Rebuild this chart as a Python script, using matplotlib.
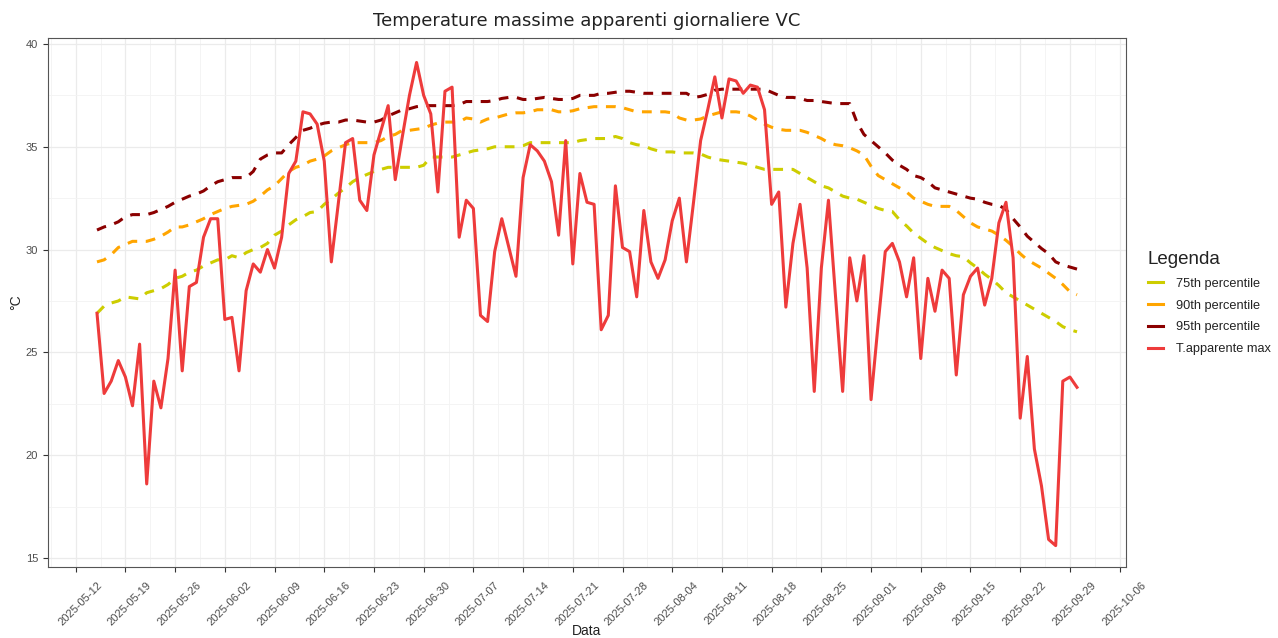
import matplotlib
matplotlib.use("Agg")
import matplotlib.pyplot as plt
import matplotlib.dates as mdates
import matplotlib.transforms as mtransforms
from matplotlib.lines import Line2D
import pandas as pd

# daily values, 2025-05-15 .. 2025-09-30 (one row = one week)
t_app_max = [
    26.9, 23.0, 23.6, 24.6, 23.8, 22.4, 25.4,
    18.6, 23.6, 22.3, 24.7, 29.0, 24.1, 28.2,
    28.4, 30.6, 31.5, 31.5, 26.6, 26.7, 24.1,
    28.0, 29.3, 28.9, 30.0, 29.1, 30.6, 33.7,
    34.3, 36.7, 36.6, 36.1, 34.3, 29.4, 32.3,
    35.2, 35.4, 32.4, 31.9, 34.6, 35.8, 37.0,
    33.4, 35.5, 37.5, 39.1, 37.5, 36.6, 32.8,
    37.7, 37.9, 30.6, 32.4, 32.0, 26.8, 26.5,
    29.9, 31.5, 30.1, 28.7, 33.5, 35.1, 34.8,
    34.3, 33.3, 30.7, 35.3, 29.3, 33.7, 32.3,
    32.2, 26.1, 26.8, 33.1, 30.1, 29.9, 27.7,
    31.9, 29.4, 28.6, 29.5, 31.4, 32.5, 29.4,
    32.3, 35.3, 36.8, 38.4, 36.4, 38.3, 38.2,
    37.6, 38.0, 37.9, 36.8, 32.2, 32.8, 27.2,
    30.3, 32.2, 29.1, 23.1, 29.1, 32.4, 27.7,
    23.1, 29.6, 27.5, 29.7, 22.7, 26.4, 29.9,
    30.3, 29.4, 27.7, 29.6, 24.7, 28.6, 27.0,
    29.0, 28.6, 23.9, 27.8, 28.7, 29.1, 27.3,
    28.6, 31.3, 32.3, 29.6, 21.8, 24.8, 20.3,
    18.5, 15.9, 15.6, 23.6, 23.8, 23.3,
]

p75 = [
    26.9, 27.25, 27.4, 27.5, 27.7, 27.65, 27.6,
    27.9, 28.0, 28.1, 28.3, 28.6, 28.7, 28.9,
    29.0, 29.2, 29.35, 29.5, 29.5, 29.7, 29.6,
    29.85, 30.0, 30.1, 30.3, 30.7, 30.9, 31.2,
    31.45, 31.6, 31.8, 31.85, 32.2, 32.45, 32.75,
    33.0, 33.3, 33.5, 33.65, 33.8, 33.9, 34.0,
    34.0, 34.0, 34.0, 34.0, 34.1, 34.5, 34.5,
    34.5, 34.5, 34.6, 34.7, 34.8, 34.85, 34.9,
    35.0, 35.0, 35.0, 35.0, 35.05, 35.2, 35.2,
    35.2, 35.2, 35.2, 35.2, 35.2, 35.3, 35.35,
    35.4, 35.4, 35.4, 35.5, 35.4, 35.2, 35.1,
    35.05, 34.9, 34.8, 34.75, 34.75, 34.7, 34.7,
    34.7, 34.65, 34.5, 34.4, 34.35, 34.3, 34.25,
    34.2, 34.1, 34.0, 33.9, 33.9, 33.9, 33.9,
    33.9, 33.7, 33.5, 33.3, 33.1, 33.0, 32.8,
    32.6, 32.5, 32.45, 32.3, 32.15, 32.0, 31.9,
    31.85, 31.45, 31.15, 30.8, 30.55, 30.3, 30.1,
    29.95, 29.8, 29.7, 29.65, 29.35, 29.1, 28.8,
    28.55, 28.25, 27.9, 27.7, 27.5, 27.3, 27.1,
    26.9, 26.7, 26.5, 26.25, 26.1, 26.0,
]

p90 = [
    29.4, 29.5, 29.75, 30.1, 30.25, 30.4, 30.4,
    30.4, 30.5, 30.65, 30.85, 31.1, 31.1, 31.2,
    31.35, 31.5, 31.7, 31.85, 32.0, 32.1, 32.15,
    32.2, 32.35, 32.6, 32.9, 33.1, 33.45, 33.8,
    34.0, 34.1, 34.3, 34.4, 34.55, 34.8, 34.95,
    35.1, 35.2, 35.2, 35.2, 35.2, 35.3, 35.5,
    35.6, 35.8, 35.8, 35.85, 35.9, 36.05, 36.15,
    36.2, 36.2, 36.2, 36.4, 36.35, 36.2, 36.35,
    36.4, 36.5, 36.6, 36.65, 36.65, 36.7, 36.8,
    36.8, 36.8, 36.7, 36.7, 36.75, 36.85, 36.9,
    36.95, 36.95, 36.95, 36.95, 36.9, 36.8, 36.7,
    36.7, 36.7, 36.7, 36.7, 36.65, 36.4, 36.3,
    36.3, 36.35, 36.5, 36.6, 36.7, 36.7, 36.7,
    36.65, 36.5, 36.3, 36.1, 35.95, 35.85, 35.8,
    35.8, 35.8, 35.7, 35.55, 35.4, 35.2, 35.1,
    35.05, 34.95, 34.8, 34.6, 34.05, 33.6, 33.4,
    33.2, 33.0, 32.8, 32.5, 32.35, 32.2, 32.1,
    32.1, 32.1, 31.9, 31.6, 31.3, 31.1, 31.0,
    30.9, 30.7, 30.45, 30.15, 29.8, 29.5, 29.3,
    29.1, 28.85, 28.6, 28.3, 27.95, 27.8,
]

p95 = [
    30.95, 31.1, 31.2, 31.35, 31.6, 31.7, 31.7,
    31.7, 31.8, 31.95, 32.1, 32.3, 32.45, 32.6,
    32.7, 32.85, 33.1, 33.3, 33.4, 33.5, 33.5,
    33.5, 33.8, 34.4, 34.6, 34.7, 34.7, 35.1,
    35.45, 35.8, 35.9, 36.05, 36.15, 36.2, 36.2,
    36.3, 36.3, 36.25, 36.2, 36.2, 36.3, 36.5,
    36.65, 36.8, 36.85, 36.95, 37.0, 37.0, 37.0,
    37.0, 37.0, 37.05, 37.2, 37.2, 37.2, 37.2,
    37.25, 37.35, 37.4, 37.4, 37.3, 37.3, 37.35,
    37.4, 37.35, 37.3, 37.3, 37.35, 37.5, 37.5,
    37.5, 37.6, 37.6, 37.65, 37.7, 37.7, 37.65,
    37.6, 37.6, 37.6, 37.6, 37.6, 37.6, 37.6,
    37.4, 37.45, 37.55, 37.75, 37.8, 37.8, 37.8,
    37.8, 37.8, 37.8, 37.8, 37.65, 37.5, 37.4,
    37.4, 37.35, 37.25, 37.25, 37.2, 37.15, 37.1,
    37.1, 37.1, 36.2, 35.6, 35.3, 35.0, 34.7,
    34.35, 34.1, 33.9, 33.6, 33.5, 33.3, 33.0,
    32.9, 32.8, 32.7, 32.6, 32.5, 32.45, 32.3,
    32.2, 32.15, 31.95, 31.5, 31.1, 30.65, 30.35,
    30.05, 29.8, 29.4, 29.25, 29.15, 29.05,
]

dates = pd.date_range("2025-05-15", periods=len(t_app_max), freq="D")
week_ticks = pd.date_range("2025-05-12", "2025-10-06", freq="7D")

series = [
    ("75th percentile", p75, "#CDCD00", "dashed"),
    ("90th percentile", p90, "#FFA500", "dashed"),
    ("95th percentile", p95, "#8B0000", "dashed"),
    ("T.apparente max", t_app_max, "#EE3B3B", "solid"),
]

plt.rcParams["font.family"] = ["Liberation Sans", "DejaVu Sans"]

fig = plt.figure(figsize=(12.78, 6.38), dpi=100)
ax = fig.add_axes([48 / 1278, 1 - 567 / 638, (1126 - 48) / 1278, (567 - 38) / 638])

for label, vals, color, style in series:
    if style == "dashed":
        ax.plot(dates, vals, color=color, lw=2.2, linestyle=(0, (3.2, 2.8)),
                dash_capstyle="butt", zorder=3)
    else:
        ax.plot(dates, vals, color=color, lw=2.2, zorder=4)

# ggplot-like expansion of 5% on both axes
pad = (dates[-1] - dates[0]) * 0.05
ax.set_xlim(dates[0] - pad, dates[-1] + pad)
ax.set_ylim(14.56, 40.29)

ax.set_xticks(week_ticks)
ax.xaxis.set_major_formatter(mdates.DateFormatter("%Y-%m-%d"))
minor_x = list(week_ticks[:-1] + pd.Timedelta(hours=84))
minor_x.append(week_ticks[0] - pd.Timedelta(hours=84))
ax.set_xticks(minor_x, minor=True)
ax.set_yticks([15, 20, 25, 30, 35, 40])
ax.set_yticks([17.5, 22.5, 27.5, 32.5, 37.5], minor=True)

ax.grid(which="major", color="#EBEBEB", lw=0.9, zorder=0)
ax.grid(which="minor", color="#F3F3F3", lw=0.6, zorder=0)
ax.set_axisbelow(True)

for sp in ax.spines.values():
    sp.set_color("#555555")
    sp.set_linewidth(0.8)

ax.tick_params(axis="both", which="major", colors="#333333", labelcolor="#4D4D4D",
               labelsize=8, length=3.5, width=0.8)
ax.tick_params(axis="both", which="minor", length=0)

# rotated date labels, nudged like ggplot's angle=45 / hjust=1
shift = mtransforms.ScaledTranslation(0.21, -0.03, fig.dpi_scale_trans)
for lab in ax.get_xticklabels():
    lab.set_rotation(45)
    lab.set_ha("right")
    lab.set_rotation_mode("anchor")
    lab.set_transform(lab.get_transform() + shift)

ax.set_xlabel("Data", fontsize=10, color="#222222", labelpad=-2)
ax.set_ylabel("°C", fontsize=10, color="#222222", labelpad=2)
ax.set_title("Temperature massime apparenti giornaliere VC", fontsize=13,
             family="DejaVu Sans", color="#222222", pad=9)

handles = [Line2D([], [], color=c, lw=2.2) for _, _, c, _ in series]
labels = [s[0] for s in series]
leg = fig.legend(handles, labels, title="Legenda", loc="center left",
                 bbox_to_anchor=(1136 / 1278, 1 - 303 / 638), frameon=False,
                 fontsize=9.2, title_fontsize=13.5, handlelength=1.2,
                 handletextpad=1.0, labelspacing=0.78, alignment="left")
for txt in leg.get_texts():
    txt.set_color("#222222")
leg.get_title().set_color("#222222")

fig.savefig("out.png", dpi=100)
